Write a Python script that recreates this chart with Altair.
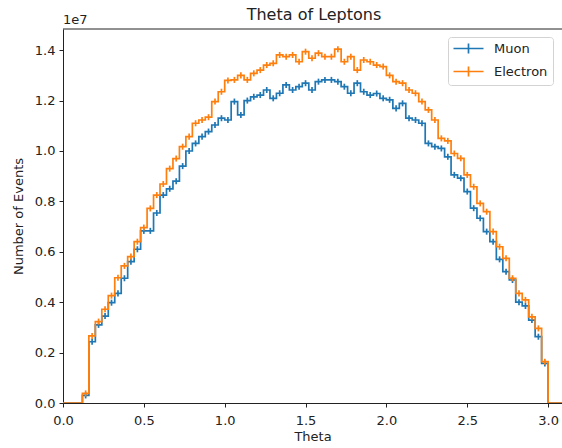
import altair as alt
import pandas as pd

# Histogram of lepton polar angle, bins of width 0.04 starting at 0.0
BIN_WIDTH = 0.04
SERIES = ["Muon", "Electron"]
COLORS = ["#1f77b4", "#ff7f0e"]

# counts per bin, in units of 1e7 (75 bins: 0.00 .. 3.00)
muon = [
    0, 0, 0, 0.030, 0.243, 0.310, 0.345, 0.398, 0.435, 0.495,
    0.561, 0.610, 0.683, 0.683, 0.754, 0.825, 0.850, 0.880, 0.940, 1.000,
    1.030, 1.057, 1.077, 1.103, 1.130, 1.123, 1.196, 1.143, 1.200, 1.215,
    1.222, 1.242, 1.209, 1.229, 1.262, 1.242, 1.255, 1.269, 1.242, 1.275,
    1.282, 1.282, 1.275, 1.255, 1.229, 1.269, 1.235, 1.222, 1.228, 1.209,
    1.203, 1.169, 1.189, 1.130, 1.123, 1.110, 1.030, 1.017, 1.010, 0.977,
    0.905, 0.892, 0.839, 0.773, 0.733, 0.680, 0.640, 0.570, 0.521, 0.488,
    0.400, 0.385, 0.329, 0.263, 0.157,
]
electron = [
    0, 0, 0, 0.038, 0.266, 0.323, 0.372, 0.426, 0.497, 0.544,
    0.581, 0.640, 0.696, 0.772, 0.825, 0.869, 0.930, 0.970, 1.017, 1.057,
    1.110, 1.123, 1.134, 1.196, 1.235, 1.280, 1.282, 1.300, 1.282, 1.308,
    1.321, 1.341, 1.348, 1.381, 1.374, 1.381, 1.354, 1.394, 1.368, 1.388,
    1.374, 1.374, 1.404, 1.354, 1.374, 1.321, 1.361, 1.354, 1.341, 1.335,
    1.300, 1.275, 1.269, 1.242, 1.229, 1.196, 1.163, 1.123, 1.050, 1.040,
    0.990, 0.971, 0.905, 0.858, 0.792, 0.759, 0.680, 0.620, 0.574, 0.495,
    0.435, 0.409, 0.342, 0.296, 0.164,
]
x_ticks = [0.0, 0.5, 1.0, 1.5, 2.0, 2.5, 3.0]
y_ticks = [0.0, 0.2, 0.4, 0.6, 0.8, 1.0, 1.2, 1.4]
TITLE = "Theta of Leptons"
X_TITLE = "Theta"
Y_TITLE = "Number of Events"
OFFSET_LABEL = "1e7"

rows = []
for name, vals in zip(SERIES, [muon, electron]):
    for k, v in enumerate(vals):
        rows.append({"series": name, "edge": k * BIN_WIDTH,
                     "center": (k + 0.5) * BIN_WIDTH, "count": v, "err": v > 0})
    rows.append({"series": name, "edge": len(vals) * BIN_WIDTH,
                 "center": None, "count": 0.0, "err": False})
    rows.append({"series": name, "edge": 3.3, "center": None, "count": 0.0, "err": False})
df = pd.DataFrame(rows)

W, H = 499, 374
XMAX = 3.086
YMAX = 1.484
INK = "#222222"
FONT = "DejaVu Sans"

xscale = alt.Scale(domain=[0, XMAX], nice=False, zero=False)
yscale = alt.Scale(domain=[0, YMAX], nice=False)
cscale = alt.Scale(domain=SERIES, range=COLORS)
legend = alt.Legend(
    title=None, orient="none", legendX=385, legendY=8,
    symbolType="M-3,0H3M0,-1V1", symbolSize=100, symbolStrokeWidth=1.7,
    symbolOffset=9,
    labelFont=FONT, labelFontSize=13, labelColor=INK, labelOffset=19,
    strokeColor="#d3d3d3", fillColor="rgba(255,255,255,0.8)",
    padding=5, cornerRadius=3, rowPadding=6,
)

xaxis = alt.Axis(values=x_ticks, format=".1f", title=X_TITLE, grid=False, labelFlush=False,
                 tickSize=4, labelPadding=7, titlePadding=3)
yaxis = alt.Axis(values=y_ticks, format=".1f", title=Y_TITLE, grid=False, labelFlush=False,
                 tickSize=4, labelPadding=4, titlePadding=9)

layers = []
for name in SERIES:
    base = alt.Chart(df).transform_filter(alt.datum.series == name)
    line = base.mark_line(interpolate="step-after", strokeWidth=1.7, clip=True).encode(
        x=alt.X("edge:Q", scale=xscale, axis=xaxis),
        y=alt.Y("count:Q", scale=yscale, axis=yaxis),
        color=alt.Color("series:N", scale=cscale, legend=legend),
    )
    err = base.transform_filter(alt.datum.err).transform_calculate(
        lo="datum['count'] - 0.012", hi="datum['count'] + 0.012"
    ).mark_rule(strokeWidth=1.7, clip=True).encode(
        x=alt.X("center:Q", scale=xscale, axis=xaxis),
        y=alt.Y("lo:Q", scale=yscale, axis=yaxis),
        y2="hi:Q",
        color=alt.Color("series:N", scale=cscale, legend=legend),
    )
    layers += [line, err]

ann = pd.DataFrame({"t": [OFFSET_LABEL], "title": [TITLE]})
top_spine = alt.Chart(ann).mark_rule(color=INK, strokeWidth=1).encode(
    x=alt.value(0), x2=alt.value(W), y=alt.value(0)
)
offset_text = alt.Chart(ann).mark_text(
    align="left", baseline="alphabetic", font=FONT, fontSize=13, color=INK
).encode(x=alt.value(0), y=alt.value(-5), text="t:N")
title_text = alt.Chart(ann).mark_text(
    align="center", baseline="alphabetic", font=FONT, fontSize=16, color=INK
).encode(x=alt.value(W / 2 + 1.5), y=alt.value(-9), text="title:N")

chart = alt.layer(*layers, top_spine, offset_text, title_text).properties(
    width=W, height=H,
    autosize=alt.AutoSizeParams(type="none"),
    padding={"left": 63, "top": 29, "right": 0, "bottom": 45},
).configure_view(stroke=None).configure_axis(
    labelFont=FONT, labelFontSize=13, labelColor=INK,
    titleFont=FONT, titleFontSize=13, titleFontWeight="normal", titleColor=INK,
    domainColor=INK, tickColor=INK, domainWidth=1, tickWidth=1,
)

chart.save("out.html", embed_options={"renderer": "svg", "actions": False})
